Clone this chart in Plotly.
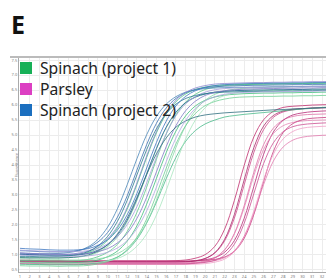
import plotly.graph_objects as go

cycles = list(range(1, 34))

# Spinach (project 1) amplification curves (green shades)
spinach1 = [
    [0.92,0.91,0.91,0.90,0.90,0.91,0.93,0.98,1.09,1.28,1.60,2.11,2.82,3.68,4.53,5.24,5.75,6.07,6.26,6.37,6.43,6.46,6.48,6.49,6.50,6.50,6.51,6.51,6.52,6.52,6.53,6.53,6.54],
    [0.82,0.81,0.81,0.80,0.80,0.80,0.81,0.85,0.94,1.09,1.35,1.78,2.42,3.26,4.19,5.03,5.67,6.10,6.36,6.52,6.60,6.65,6.67,6.68,6.69,6.70,6.70,6.71,6.71,6.72,6.72,6.73,6.73],
    [0.69,0.68,0.68,0.67,0.67,0.67,0.67,0.70,0.74,0.81,0.93,1.15,1.52,2.06,2.76,3.54,4.25,4.79,5.15,5.37,5.50,5.60,5.65,5.69,5.72,5.75,5.78,5.81,5.84,5.87,5.89,5.92,5.94],
    [0.76,0.75,0.74,0.74,0.73,0.74,0.75,0.77,0.83,0.94,1.13,1.46,1.97,2.69,3.55,4.41,5.13,5.64,5.97,6.16,6.27,6.33,6.36,6.38,6.39,6.40,6.40,6.41,6.41,6.42,6.42,6.43,6.43],
    [0.87,0.86,0.85,0.84,0.84,0.83,0.83,0.84,0.87,0.93,1.04,1.24,1.57,2.09,2.82,3.70,4.58,5.31,5.83,6.16,6.36,6.47,6.53,6.56,6.58,6.59,6.60,6.60,6.61,6.61,6.62,6.62,6.63],
    [0.64,0.63,0.63,0.63,0.62,0.63,0.63,0.65,0.70,0.78,0.92,1.18,1.59,2.20,3.01,3.89,4.70,5.31,5.72,5.98,6.12,6.20,6.25,6.27,6.28,6.29,6.29,6.30,6.30,6.31,6.31,6.32,6.32],
    [1.01,1.00,0.98,0.98,0.97,0.98,1.01,1.08,1.23,1.49,1.90,2.53,3.35,4.25,5.07,5.70,6.11,6.37,6.52,6.60,6.65,6.67,6.68,6.69,6.70,6.70,6.71,6.71,6.72,6.72,6.73,6.73,6.74],
    [0.74,0.73,0.73,0.72,0.72,0.72,0.72,0.73,0.75,0.80,0.88,1.03,1.29,1.70,2.33,3.15,4.05,4.87,5.50,5.91,6.17,6.32,6.40,6.45,6.47,6.48,6.49,6.49,6.50,6.50,6.51,6.51,6.52],
]

# Spinach (project 2) amplification curves (blue / purple shades)
spinach2 = [
    [1.14,1.13,1.11,1.10,1.10,1.11,1.15,1.24,1.43,1.75,2.26,2.97,3.83,4.68,5.39,5.90,6.22,6.41,6.52,6.58,6.61,6.63,6.64,6.65,6.66,6.66,6.67,6.67,6.68,6.68,6.69,6.69,6.70],
    [1.06,1.05,1.04,1.04,1.05,1.08,1.14,1.27,1.52,1.93,2.54,3.34,4.21,5.01,5.62,6.03,6.28,6.43,6.50,6.55,6.57,6.58,6.59,6.59,6.60,6.60,6.61,6.61,6.62,6.62,6.63,6.63,6.64],
    [1.02,1.02,1.01,1.01,1.01,1.02,1.06,1.13,1.28,1.54,1.95,2.58,3.40,4.30,5.12,5.75,6.16,6.42,6.57,6.65,6.70,6.72,6.73,6.74,6.75,6.75,6.76,6.76,6.77,6.77,6.78,6.78,6.79],
    [1.03,1.01,1.00,0.99,0.99,0.99,1.00,1.05,1.16,1.34,1.66,2.16,2.87,3.71,4.55,5.26,5.76,6.08,6.27,6.37,6.43,6.46,6.48,6.49,6.50,6.50,6.51,6.51,6.52,6.52,6.53,6.53,6.54],
    [1.16,1.14,1.13,1.12,1.11,1.11,1.12,1.14,1.22,1.37,1.61,2.01,2.61,3.40,4.26,5.04,5.64,6.04,6.28,6.43,6.51,6.55,6.57,6.58,6.59,6.59,6.60,6.60,6.61,6.61,6.62,6.62,6.63],
    [0.95,0.95,0.94,0.94,0.95,0.97,1.02,1.11,1.30,1.62,2.12,2.82,3.67,4.51,5.21,5.71,6.03,6.22,6.32,6.38,6.41,6.43,6.44,6.45,6.45,6.46,6.46,6.47,6.47,6.48,6.48,6.49,6.49],
    [1.07,1.05,1.04,1.03,1.03,1.02,1.03,1.05,1.11,1.21,1.40,1.72,2.22,2.92,3.77,4.61,5.31,5.81,6.13,6.32,6.42,6.48,6.51,6.53,6.54,6.55,6.55,6.56,6.56,6.57,6.57,6.58,6.58],
    [0.91,0.90,0.90,0.90,0.90,0.91,0.94,1.00,1.13,1.34,1.70,2.23,2.92,3.68,4.37,4.90,5.26,5.47,5.60,5.67,5.71,5.74,5.76,5.78,5.80,5.82,5.84,5.85,5.87,5.88,5.90,5.91,5.92],
    [1.22,1.20,1.19,1.17,1.16,1.16,1.17,1.21,1.32,1.51,1.83,2.34,3.05,3.90,4.75,5.46,5.97,6.29,6.48,6.59,6.65,6.68,6.70,6.71,6.72,6.72,6.73,6.73,6.74,6.74,6.75,6.75,6.76],
    [0.99,0.98,0.97,0.96,0.96,0.95,0.96,0.97,1.01,1.09,1.23,1.48,1.88,2.47,3.26,4.11,4.90,5.49,5.89,6.14,6.28,6.36,6.40,6.42,6.43,6.44,6.44,6.45,6.45,6.46,6.46,6.47,6.47],
]

# Parsley amplification curves (magenta / pink shades)
parsley = [
    [0.82,0.82,0.81,0.81,0.81,0.80,0.80,0.80,0.80,0.80,0.80,0.80,0.80,0.80,0.80,0.80,0.81,0.83,0.89,1.01,1.29,1.86,2.82,3.98,4.94,5.51,5.79,5.92,5.96,5.98,6.00,6.01,6.02],
    [0.77,0.77,0.76,0.76,0.76,0.75,0.75,0.75,0.75,0.75,0.75,0.75,0.75,0.75,0.75,0.75,0.75,0.77,0.81,0.88,1.06,1.47,2.23,3.33,4.42,5.18,5.59,5.77,5.84,5.88,5.90,5.91,5.92],
    [0.72,0.72,0.71,0.71,0.70,0.70,0.70,0.70,0.70,0.70,0.70,0.70,0.70,0.70,0.70,0.70,0.70,0.71,0.73,0.78,0.90,1.17,1.72,2.64,3.76,4.68,5.23,5.50,5.62,5.67,5.69,5.70,5.71],
    [0.80,0.80,0.79,0.78,0.78,0.78,0.78,0.78,0.78,0.78,0.78,0.78,0.78,0.78,0.78,0.78,0.78,0.78,0.80,0.84,0.91,1.09,1.48,2.22,3.29,4.36,5.10,5.49,5.67,5.74,5.78,5.80,5.81],
    [0.74,0.74,0.73,0.73,0.72,0.72,0.72,0.72,0.72,0.72,0.72,0.72,0.72,0.72,0.72,0.72,0.72,0.73,0.75,0.80,0.91,1.17,1.70,2.57,3.65,4.52,5.05,5.31,5.42,5.47,5.49,5.50,5.51],
    [0.82,0.82,0.81,0.80,0.80,0.80,0.80,0.80,0.80,0.80,0.80,0.80,0.80,0.80,0.80,0.80,0.80,0.80,0.80,0.82,0.85,0.93,1.12,1.55,2.35,3.45,4.45,5.08,5.38,5.51,5.56,5.58,5.60],
    [0.70,0.70,0.69,0.68,0.68,0.68,0.68,0.68,0.68,0.68,0.68,0.68,0.68,0.68,0.68,0.68,0.68,0.68,0.69,0.71,0.76,0.86,1.11,1.62,2.47,3.51,4.36,4.87,5.12,5.23,5.27,5.29,5.30],
    [0.78,0.78,0.77,0.76,0.76,0.76,0.76,0.76,0.76,0.76,0.76,0.76,0.76,0.76,0.76,0.76,0.76,0.77,0.80,0.88,1.08,1.52,2.35,3.50,4.58,5.30,5.65,5.80,5.86,5.88,5.90,5.91,5.92],
    [0.76,0.76,0.75,0.74,0.74,0.74,0.74,0.74,0.74,0.74,0.74,0.74,0.74,0.74,0.74,0.74,0.74,0.74,0.74,0.77,0.81,0.91,1.14,1.61,2.39,3.35,4.13,4.60,4.83,4.93,4.97,4.99,5.00],
    [0.72,0.72,0.71,0.70,0.70,0.70,0.70,0.70,0.70,0.70,0.70,0.70,0.70,0.70,0.70,0.70,0.70,0.70,0.72,0.75,0.82,0.99,1.36,2.05,3.05,4.05,4.74,5.11,5.28,5.35,5.38,5.40,5.41],
]

legend_names = ["Spinach (project 1)", "Parsley", "Spinach (project 2)"]
legend_colors = ["#17b057", "#dc3fc2", "#1b6fbf"]

green_shades = ["#7fd8a0", "#5cc98a", "#49b98a", "#3fbf7a", "#8bd9a9", "#6fcf95", "#4cc584", "#a8e6be"]
blue_shades = ["#3b6fb0", "#4a86b8", "#8a86cf", "#2f5f9e", "#a79fdc", "#2b7a8f", "#7f7ac4", "#2f6f7f", "#4078c0", "#b0a8e0"]
pink_shades = ["#c0306f", "#d04a8c", "#e070a8", "#b82c78", "#e589b8", "#c73c80", "#f0a0c8", "#a8286a", "#e27aaf", "#cc4f92"]

W, H = 326, 278
ML, MR, MT, MB = 19, 0, 58, 6
PW, PH = W - ML - MR, H - MT - MB


def px_x(px):
    return (px - ML) / PW


def px_y(py):
    return (H - MB - py) / PH


fig = go.Figure()

for vals, col in zip(parsley, pink_shades):
    fig.add_trace(go.Scatter(x=cycles, y=vals, mode="lines", line=dict(color=col, width=1, shape="spline"),
                             opacity=0.8, showlegend=False, hoverinfo="skip"))
for vals, col in zip(spinach1, green_shades):
    fig.add_trace(go.Scatter(x=cycles, y=vals, mode="lines", line=dict(color=col, width=1, shape="spline"),
                             opacity=0.8, showlegend=False, hoverinfo="skip"))
for vals, col in zip(spinach2, blue_shades):
    fig.add_trace(go.Scatter(x=cycles, y=vals, mode="lines", line=dict(color=col, width=1, shape="spline"),
                             opacity=0.8, showlegend=False, hoverinfo="skip"))

# manual legend (squares + labels)
shapes = [dict(type="line", xref="paper", yref="paper", x0=px_x(10), x1=1.0, y0=px_y(57), y1=px_y(57),
               line=dict(color="#bbbbbb", width=2))]
annotations = [
    dict(text="<b>E</b>", xref="paper", yref="paper", x=px_x(9), y=px_y(24), xanchor="left", yanchor="middle",
         showarrow=False, font=dict(size=25, color="#111", family="Noto Sans")),
    dict(text="Fluorescence", xref="paper", yref="paper", x=px_x(11), y=0.5, textangle=-90,
         showarrow=False, font=dict(size=4, color="#777")),
]
row_tops = [62, 83, 104]
for name, col, top in zip(legend_names, legend_colors, row_tops):
    shapes.append(dict(type="rect", xref="paper", yref="paper", x0=px_x(20), x1=px_x(32),
                       y0=px_y(top), y1=px_y(top + 12), fillcolor=col, line=dict(width=0)))
    annotations.append(dict(text=name, xref="paper", yref="paper", x=px_x(38), y=px_y(top + 6),
                            xanchor="left", yanchor="middle", showarrow=False,
                            font=dict(size=15.7, color="#222", family="Noto Sans")))

fig.update_layout(
    width=W, height=H,
    margin=dict(l=ML, r=MR, t=MT, b=MB),
    paper_bgcolor="white", plot_bgcolor="white",
    font=dict(family="Noto Sans", color="#222"),
    showlegend=False,
    xaxis=dict(range=[0.9, 32.4], tickmode="array", tickvals=list(range(1, 33)),
               ticktext=[str(i) for i in range(1, 33)], tickfont=dict(size=4, color="#777"),
               showgrid=True, gridcolor="#ececec", gridwidth=1, zeroline=False,
               showline=True, linecolor="#aaaaaa", linewidth=1,
               ticks="", automargin=False, fixedrange=True),
    yaxis=dict(range=[0.43, 7.57], tickmode="array",
               tickvals=[0.5, 1.0, 1.5, 2.0, 2.5, 3.0, 3.5, 4.0, 4.5, 5.0, 5.5, 6.0, 6.5, 7.0, 7.5],
               ticktext=["0.5", "1.0", "1.5", "2.0", "2.5", "3.0", "3.5", "4.0", "4.5", "5.0", "5.5", "6.0", "6.5", "7.0", "7.5"],
               tickfont=dict(size=4, color="#777"),
               showgrid=True, gridcolor="#ececec", gridwidth=1, zeroline=False,
               showline=True, linecolor="#aaaaaa", linewidth=1,
               ticks="", automargin=False, fixedrange=True),
    shapes=shapes,
    annotations=annotations,
)

fig.write_html("out.html", config={"displayModeBar": False, "staticPlot": True},
               post_script="document.body.style.margin='0';document.body.style.overflow='hidden';")
